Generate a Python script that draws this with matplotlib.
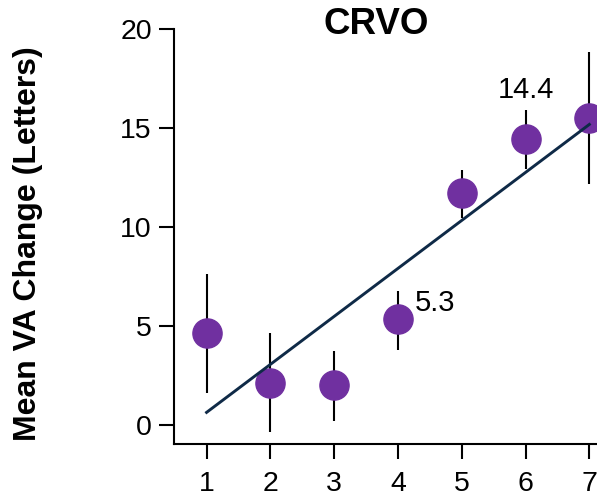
import matplotlib.pyplot as plt

plt.rcParams['font.family'] = ['Liberation Sans', 'DejaVu Sans']

# data
weeks = [1, 2, 3, 4, 5, 6, 7]
mean_va = [4.63, 2.10, 2.02, 5.33, 11.72, 14.41, 15.50]
err_low = [1.63, -0.37, 0.20, 3.78, 10.43, 12.92, 12.14]
err_high = [7.62, 4.66, 3.75, 6.76, 12.87, 15.89, 18.80]
fit_x = [1, 7]
fit_y = [0.64, 15.17]
labels = {4: '5.3', 6: '14.4'}

lower = [m - lo for m, lo in zip(mean_va, err_low)]
upper = [hi - m for m, hi in zip(mean_va, err_high)]

fig = plt.figure(figsize=(5.97, 4.99), dpi=100)
ax = fig.add_axes([0.2915, 0.1096, 0.7085, 0.8329])

ax.errorbar(weeks, mean_va, yerr=[lower, upper], fmt='none', ecolor='black',
            elinewidth=1.5, capsize=0, zorder=2)
ax.plot(weeks, mean_va, 'o', color='#7030a0', markersize=21, zorder=3)
ax.plot(fit_x, fit_y, color='#0f2a47', linewidth=2.1, zorder=4)

ax.text(4 + 0.27, 5.33 + 0.85, labels[4], fontsize=21, ha='left', va='center')
ax.text(6, 15.9 + 0.3, labels[6], fontsize=21, ha='center', va='bottom')

ax.set_xlim(0.49, 7.12)
ax.set_ylim(-0.97, 20)
ax.set_xticks(weeks)
ax.set_yticks([0, 5, 10, 15, 20])
ax.tick_params(labelsize=20.5, length=11, width=1.5)
ax.tick_params(axis='x', pad=8)
ax.tick_params(axis='y', pad=5)
for side in ['top', 'right']:
    ax.spines[side].set_visible(False)
for side in ['left', 'bottom']:
    ax.spines[side].set_linewidth(1.5)

ax.set_ylabel('Mean VA Change (Letters)', fontsize=23, fontweight='bold')
ax.yaxis.set_label_coords(-0.31, 0.483)
fig.text(376 / 597, 1 - 24 / 499, 'CRVO', fontsize=26.5, fontweight='bold',
         ha='center', va='center')

fig.savefig('out.png', dpi=100)
